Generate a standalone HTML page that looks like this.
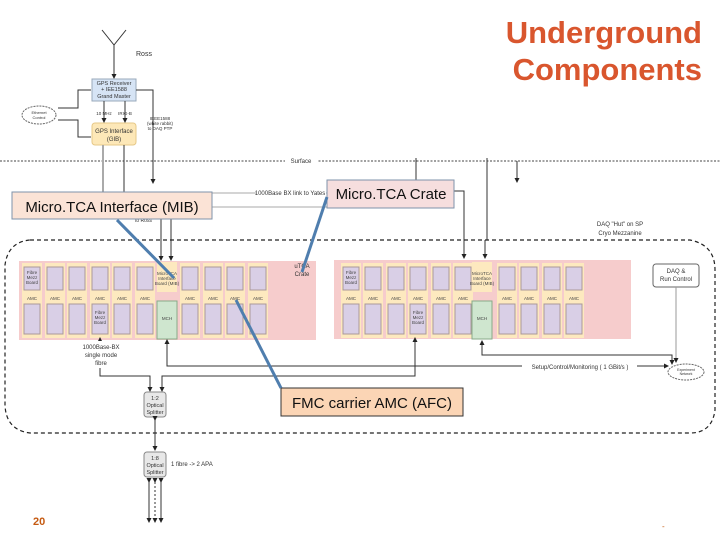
<!DOCTYPE html>
<html><head><meta charset="utf-8"><style>
body{margin:0;background:#fff;}
svg{display:block;font-family:"Liberation Sans",sans-serif;}
</style></head><body>
<svg width="720" height="540" viewBox="0 0 720 540" xmlns="http://www.w3.org/2000/svg">
<defs>
<marker id="a" markerWidth="5" markerHeight="5" refX="4" refY="2.5" orient="auto"><path d="M0,0L5,2.5L0,5z" fill="#222"/></marker>
</defs>
<text x="702" y="43" text-anchor="end" font-size="31" font-weight="bold" fill="#d9562e">Underground</text>
<text x="702" y="80" text-anchor="end" font-size="31" font-weight="bold" fill="#d9562e">Components</text>
<g stroke="#333" fill="none" stroke-width="1">
<path d="M102,30L114,45L126,30" /></g>
<line x1="114" y1="45" x2="114" y2="78" stroke="#333" marker-end="url(#a)"/>
<text x="136" y="56" font-size="7" fill="#333">Ross</text>
<rect x="92" y="79" width="44" height="22" fill="#d6e4f5" stroke="#9ab"/>
<text x="114" y="85" font-size="5.5" text-anchor="middle" fill="#333">GPS Receiver</text>
<text x="114" y="91" font-size="5.5" text-anchor="middle" fill="#333">+ IEE1588</text>
<text x="114" y="98" font-size="5.5" text-anchor="middle" fill="#333">Grand Master</text>
<rect x="92" y="123" width="44" height="22" rx="3" fill="#fde8b8" stroke="#e6c887"/>
<text x="114" y="133" font-size="6" text-anchor="middle" fill="#333">GPS Interface</text>
<text x="114" y="141" font-size="6" text-anchor="middle" fill="#333">(GIB)</text>
<text x="104" y="115" font-size="4.5" text-anchor="middle" fill="#333">10 MHz</text>
<text x="125" y="115" font-size="4.5" text-anchor="middle" fill="#333">IRIG-B</text>
<line x1="104" y1="101" x2="104" y2="122" stroke="#333" marker-end="url(#a)"/>
<line x1="125" y1="101" x2="125" y2="122" stroke="#333" marker-end="url(#a)"/>
<ellipse cx="39" cy="115" rx="17" ry="9" fill="#fff" stroke="#666" stroke-dasharray="2,1"/>
<text x="39" y="114" font-size="4" text-anchor="middle" fill="#333">Ethernet</text>
<text x="39" y="119" font-size="4" text-anchor="middle" fill="#333">Control</text>
<path d="M58,108H78V90H91M58,120H78V137H91" fill="none" stroke="#333"/>
<path d="M136,90H153V183" fill="none" stroke="#333" marker-end="url(#a)"/>
<text x="160" y="120" font-size="4.5" text-anchor="middle" fill="#333">IEEE1588</text>
<text x="160" y="125" font-size="4.5" text-anchor="middle" fill="#333">(white rabbit)</text>
<text x="160" y="130" font-size="4.5" text-anchor="middle" fill="#333">to DAQ PTP</text>
<line x1="0" y1="161" x2="720" y2="161" stroke="#444" stroke-dasharray="2,1.5"/>
<rect x="285" y="157" width="32" height="8" fill="#fff"/>
<text x="301" y="163" font-size="6" text-anchor="middle" fill="#333">Surface</text>
<line x1="103" y1="145" x2="103" y2="192" stroke="#aaa" stroke-width="2"/>
<line x1="124" y1="145" x2="124" y2="192" stroke="#333"/>
<line x1="416" y1="158" x2="416" y2="180" stroke="#333"/>
<line x1="487" y1="158" x2="487" y2="240" stroke="#333"/>
<line x1="517" y1="161" x2="517" y2="182" stroke="#333" marker-end="url(#a)"/>
<line x1="212" y1="193" x2="327" y2="193" stroke="#aaa"/>
<rect x="256" y="188" width="70" height="8" fill="#fff"/>
<text x="290" y="195" font-size="6" text-anchor="middle" fill="#333">1000Base BX link to Yates</text>
<line x1="212" y1="207" x2="327" y2="207" stroke="#aaa"/>
<path d="M453,191H464V258" fill="none" stroke="#333" marker-end="url(#a)"/>
<line x1="485" y1="240" x2="485" y2="258" stroke="#333" marker-end="url(#a)"/>
<line x1="161" y1="219" x2="161" y2="260" stroke="#333" marker-end="url(#a)"/>
<line x1="171" y1="219" x2="171" y2="260" stroke="#333" marker-end="url(#a)"/>
<text x="135" y="222" font-size="5" fill="#333">to Ross</text>
<path d="M30,240H690Q715,245 715,270V410Q712,433 690,433H30Q6,430 5,405V265Q8,242 30,240Z" fill="none" stroke="#222" stroke-width="1.2" stroke-dasharray="4,3"/>
<text x="620" y="226" font-size="6" text-anchor="middle" fill="#333">DAQ "Hut" on SP</text>
<text x="620" y="235" font-size="6" text-anchor="middle" fill="#333">Cryo Mezzanine</text>
<rect x="19" y="261" width="297" height="79" fill="#f6cccc"/>
<rect x="334" y="260" width="297" height="79" fill="#f6cccc"/>
<g font-size="4.5" fill="#444" text-anchor="middle">
<g>
<rect x="22" y="263" width="20" height="75" fill="#fde9bf"/><rect x="24" y="267" width="16" height="23" fill="#d9cfe6" stroke="#a99"/><rect x="24" y="304" width="16" height="30" fill="#d9cfe6" stroke="#a99"/><text x="32" y="300">AMC</text>
<rect x="45" y="263" width="20" height="75" fill="#fde9bf"/><rect x="47" y="267" width="16" height="23" fill="#d9cfe6" stroke="#a99"/><rect x="47" y="304" width="16" height="30" fill="#d9cfe6" stroke="#a99"/><text x="55" y="300">AMC</text>
<rect x="67" y="263" width="20" height="75" fill="#fde9bf"/><rect x="69" y="267" width="16" height="23" fill="#d9cfe6" stroke="#a99"/><rect x="69" y="304" width="16" height="30" fill="#d9cfe6" stroke="#a99"/><text x="77" y="300">AMC</text>
<rect x="90" y="263" width="20" height="75" fill="#fde9bf"/><rect x="92" y="267" width="16" height="23" fill="#d9cfe6" stroke="#a99"/><rect x="92" y="304" width="16" height="30" fill="#d9cfe6" stroke="#a99"/><text x="100" y="300">AMC</text>
<rect x="112" y="263" width="20" height="75" fill="#fde9bf"/><rect x="114" y="267" width="16" height="23" fill="#d9cfe6" stroke="#a99"/><rect x="114" y="304" width="16" height="30" fill="#d9cfe6" stroke="#a99"/><text x="122" y="300">AMC</text>
<rect x="135" y="263" width="20" height="75" fill="#fde9bf"/><rect x="137" y="267" width="16" height="23" fill="#d9cfe6" stroke="#a99"/><rect x="137" y="304" width="16" height="30" fill="#d9cfe6" stroke="#a99"/><text x="145" y="300">AMC</text>
<rect x="157" y="262" width="20" height="30" fill="#fde9bf"/><rect x="157" y="301" width="20" height="38" fill="#cfe6cf" stroke="#8a8"/><text x="167" y="320">MCH</text>
<rect x="180" y="263" width="20" height="75" fill="#fde9bf"/><rect x="182" y="267" width="16" height="23" fill="#d9cfe6" stroke="#a99"/><rect x="182" y="304" width="16" height="30" fill="#d9cfe6" stroke="#a99"/><text x="190" y="300">AMC</text>
<rect x="203" y="263" width="20" height="75" fill="#fde9bf"/><rect x="205" y="267" width="16" height="23" fill="#d9cfe6" stroke="#a99"/><rect x="205" y="304" width="16" height="30" fill="#d9cfe6" stroke="#a99"/><text x="213" y="300">AMC</text>
<rect x="225" y="263" width="20" height="75" fill="#fde9bf"/><rect x="227" y="267" width="16" height="23" fill="#d9cfe6" stroke="#a99"/><rect x="227" y="304" width="16" height="30" fill="#d9cfe6" stroke="#a99"/><text x="235" y="300">AMC</text>
<rect x="248" y="263" width="20" height="75" fill="#fde9bf"/><rect x="250" y="267" width="16" height="23" fill="#d9cfe6" stroke="#a99"/><rect x="250" y="304" width="16" height="30" fill="#d9cfe6" stroke="#a99"/><text x="258" y="300">AMC</text>
</g>
<g>
<rect x="341" y="263" width="20" height="75" fill="#fde9bf"/><rect x="343" y="267" width="16" height="23" fill="#d9cfe6" stroke="#a99"/><rect x="343" y="304" width="16" height="30" fill="#d9cfe6" stroke="#a99"/><text x="351" y="300">AMC</text>
<rect x="363" y="263" width="20" height="75" fill="#fde9bf"/><rect x="365" y="267" width="16" height="23" fill="#d9cfe6" stroke="#a99"/><rect x="365" y="304" width="16" height="30" fill="#d9cfe6" stroke="#a99"/><text x="373" y="300">AMC</text>
<rect x="386" y="263" width="20" height="75" fill="#fde9bf"/><rect x="388" y="267" width="16" height="23" fill="#d9cfe6" stroke="#a99"/><rect x="388" y="304" width="16" height="30" fill="#d9cfe6" stroke="#a99"/><text x="396" y="300">AMC</text>
<rect x="408" y="263" width="20" height="75" fill="#fde9bf"/><rect x="410" y="267" width="16" height="23" fill="#d9cfe6" stroke="#a99"/><rect x="410" y="304" width="16" height="30" fill="#d9cfe6" stroke="#a99"/><text x="418" y="300">AMC</text>
<rect x="431" y="263" width="20" height="75" fill="#fde9bf"/><rect x="433" y="267" width="16" height="23" fill="#d9cfe6" stroke="#a99"/><rect x="433" y="304" width="16" height="30" fill="#d9cfe6" stroke="#a99"/><text x="441" y="300">AMC</text>
<rect x="453" y="263" width="20" height="75" fill="#fde9bf"/><rect x="455" y="267" width="16" height="23" fill="#d9cfe6" stroke="#a99"/><rect x="455" y="304" width="16" height="30" fill="#d9cfe6" stroke="#a99"/><text x="463" y="300">AMC</text>
<rect x="472" y="262" width="20" height="30" fill="#fde9bf"/><rect x="472" y="301" width="20" height="38" fill="#cfe6cf" stroke="#8a8"/><text x="482" y="320">MCH</text>
<rect x="497" y="263" width="20" height="75" fill="#fde9bf"/><rect x="499" y="267" width="16" height="23" fill="#d9cfe6" stroke="#a99"/><rect x="499" y="304" width="16" height="30" fill="#d9cfe6" stroke="#a99"/><text x="507" y="300">AMC</text>
<rect x="519" y="263" width="20" height="75" fill="#fde9bf"/><rect x="521" y="267" width="16" height="23" fill="#d9cfe6" stroke="#a99"/><rect x="521" y="304" width="16" height="30" fill="#d9cfe6" stroke="#a99"/><text x="529" y="300">AMC</text>
<rect x="542" y="263" width="20" height="75" fill="#fde9bf"/><rect x="544" y="267" width="16" height="23" fill="#d9cfe6" stroke="#a99"/><rect x="544" y="304" width="16" height="30" fill="#d9cfe6" stroke="#a99"/><text x="552" y="300">AMC</text>
<rect x="564" y="263" width="20" height="75" fill="#fde9bf"/><rect x="566" y="267" width="16" height="23" fill="#d9cfe6" stroke="#a99"/><rect x="566" y="304" width="16" height="30" fill="#d9cfe6" stroke="#a99"/><text x="574" y="300">AMC</text>
</g>
<text x="167" y="275">MicroTCA</text><text x="167" y="280">Interface</text><text x="167" y="285">Board (MIB)</text>
<text x="482" y="275">MicroTCA</text><text x="482" y="280">Interface</text><text x="482" y="285">Board (MIB)</text>
<text x="32" y="274">Fibre</text><text x="32" y="279">Mezz</text><text x="32" y="284">Board</text>
<text x="351" y="274">Fibre</text><text x="351" y="279">Mezz</text><text x="351" y="284">Board</text>
<text x="100" y="314">Fibre</text><text x="100" y="319">Mezz</text><text x="100" y="324">Board</text>
<text x="418" y="314">Fibre</text><text x="418" y="319">Mezz</text><text x="418" y="324">Board</text>
</g>
<text x="302" y="268" font-size="6" text-anchor="middle" fill="#333">uTCA</text>
<text x="302" y="276" font-size="6" text-anchor="middle" fill="#333">Crate</text>
<rect x="653" y="264" width="46" height="23" rx="3" fill="#fff" stroke="#666"/>
<text x="676" y="273" font-size="6" text-anchor="middle" fill="#333">DAQ &amp;</text>
<text x="676" y="281" font-size="6" text-anchor="middle" fill="#333">Run Control</text>
<line x1="676" y1="287" x2="676" y2="362" stroke="#999" marker-end="url(#a)"/>
<ellipse cx="686" cy="372" rx="18" ry="8" fill="#fff" stroke="#666" stroke-dasharray="2,1"/>
<text x="686" y="371" font-size="3.5" text-anchor="middle" fill="#333">Experiment</text>
<text x="686" y="375" font-size="3.5" text-anchor="middle" fill="#333">Network</text>
<path d="M482,342V355H672V364" fill="none" stroke="#333" marker-end="url(#a)"/>
<line x1="482" y1="355" x2="482" y2="341" stroke="#333" marker-end="url(#a)"/>
<path d="M167,342V366H668" fill="none" stroke="#333" marker-end="url(#a)"/>
<rect x="522" y="362" width="115" height="8" fill="#fff"/>
<text x="580" y="369" font-size="6" text-anchor="middle" fill="#333">Setup/Control/Monitoring ( 1 GBit/s )</text>
<line x1="167" y1="350" x2="167" y2="340" stroke="#333" marker-end="url(#a)"/>
<path d="M100,340V376H150V391" fill="none" stroke="#333" marker-end="url(#a)"/>
<path d="M415,340V376H162V391" fill="none" stroke="#333" marker-end="url(#a)"/>
<line x1="100" y1="345" x2="100" y2="338" stroke="#333" marker-end="url(#a)"/>
<line x1="415" y1="345" x2="415" y2="338" stroke="#333" marker-end="url(#a)"/>
<rect x="80" y="341" width="42" height="27" fill="#fff"/>
<text x="101" y="349" font-size="6" text-anchor="middle" fill="#333">1000Base-BX</text>
<text x="101" y="357" font-size="6" text-anchor="middle" fill="#333">single mode</text>
<text x="101" y="365" font-size="6" text-anchor="middle" fill="#333">fibre</text>
<rect x="144" y="392" width="22" height="25" rx="3" fill="#e8e8e8" stroke="#888"/>
<text x="155" y="400" font-size="5.5" text-anchor="middle" fill="#333">1:2</text>
<text x="155" y="407" font-size="5.5" text-anchor="middle" fill="#333">Optical</text>
<text x="155" y="414" font-size="5.5" text-anchor="middle" fill="#333">Splitter</text>
<line x1="155" y1="420" x2="155" y2="450" stroke="#333" marker-end="url(#a)" marker-start="url(#a)"/>
<rect x="144" y="452" width="22" height="25" rx="3" fill="#e8e8e8" stroke="#888"/>
<text x="155" y="460" font-size="5.5" text-anchor="middle" fill="#333">1:8</text>
<text x="155" y="467" font-size="5.5" text-anchor="middle" fill="#333">Optical</text>
<text x="155" y="474" font-size="5.5" text-anchor="middle" fill="#333">Splitter</text>
<text x="171" y="466" font-size="6" fill="#333">1 fibre -&gt; 2 APA</text>
<g stroke="#333" marker-end="url(#a)" marker-start="url(#a)">
<line x1="149" y1="482" x2="149" y2="522"/><line x1="155" y1="482" x2="155" y2="522" stroke-dasharray="2,2"/><line x1="161" y1="482" x2="161" y2="522"/></g>
<text x="33" y="525" font-size="11" font-weight="bold" fill="#c55a11">20</text>
<text x="662" y="529" font-size="8" fill="#c55a11">-</text>
<rect x="12" y="192" width="200" height="27" fill="#fbe3d6" stroke="#7f93ab"/>
<text x="112" y="212" font-size="15" text-anchor="middle" fill="#111">Micro.TCA Interface (MIB)</text>
<rect x="327" y="180" width="127" height="28" fill="#f6dede" stroke="#7f93ab"/>
<text x="391" y="199" font-size="15" text-anchor="middle" fill="#111">Micro.TCA Crate</text>
<rect x="281" y="388" width="182" height="28" fill="#fbd5b5" stroke="#333"/>
<text x="372" y="408" font-size="15" text-anchor="middle" fill="#111">FMC carrier AMC (AFC)</text>
<g stroke="#4f7eae" stroke-width="3">
<line x1="117" y1="220" x2="174" y2="278"/>
<line x1="327" y1="197" x2="302" y2="272"/>
<line x1="281" y1="388" x2="236" y2="300"/>
</g>
</svg>
</body></html>
